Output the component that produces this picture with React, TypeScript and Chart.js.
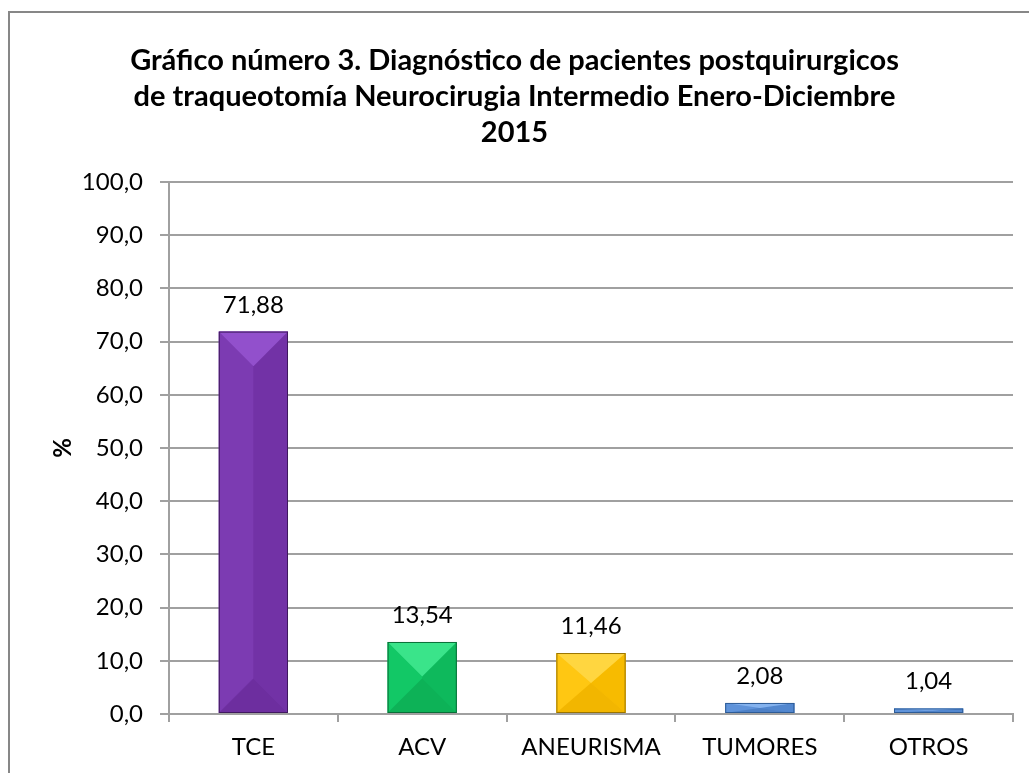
import React, { useEffect, useRef } from "react";
import { Chart, registerables } from "chart.js";

Chart.register(...registerables);

const categories = ["TCE", "ACV", "ANEURISMA", "TUMORES", "OTROS"];
const percentValues = [71.88, 13.54, 11.46, 2.08, 1.04];
const titleLines = [
  "Gráfico número 3. Diagnóstico de pacientes postquirurgicos",
  "de traqueotomía Neurocirugia Intermedio Enero-Diciembre",
  "2015",
];
const yAxisTitle = "%";
const yMin = 0;
const yMax = 100;
const yStep = 10;

// styles: [base, left face, right face, top, bottom, outline]
const barStyles = [
  ["#7a3ab0", "#7c3bb2", "#7232a6", "#9250cc", "#6d2e9f", "#40195f"],
  ["#10c062", "#12c866", "#0eb95c", "#3ae48a", "#0db257", "#0a6e38"],
  ["#ffc20a", "#ffc712", "#f7bb00", "#ffd640", "#f2b600", "#9a7400"],
  ["#5b8fd6", "#5f93da", "#5287cf", "#84b2ee", "#4d80c6", "#2d5b96"],
  ["#5b8fd6", "#5f93da", "#5287cf", "#84b2ee", "#4d80c6", "#2d5b96"],
];

const FONT = "Lato, 'Open Sans', sans-serif";
const GRID = "#a0a0a0";

const fmt = (v: number, d: number) => v.toFixed(d).replace(".", ",");

const framePlugin = {
  id: "frame",
  beforeDraw(chart: any) {
    const ctx = chart.ctx;
    ctx.save();
    ctx.fillStyle = "#ffffff";
    ctx.fillRect(0, 0, chart.width, chart.height);
    ctx.strokeStyle = "#878787";
    ctx.lineWidth = 2;
    ctx.strokeRect(9, 12, 1040, 820);
    ctx.restore();
  },
};

const bevelPlugin = {
  id: "bevel",
  afterDatasetsDraw(chart: any) {
    const ctx = chart.ctx;
    const meta = chart.getDatasetMeta(0);
    meta.data.forEach((bar: any, i: number) => {
      const st = barStyles[i];
      const w = bar.width;
      const left = bar.x - w / 2;
      const right = bar.x + w / 2;
      const top = Math.min(bar.y, bar.base);
      const bottom = Math.max(bar.y, bar.base);
      const h = bottom - top;
      const d = Math.min(w / 2, h / 2);
      const cx = bar.x;
      const poly = (pts: number[][], color: string) => {
        ctx.beginPath();
        ctx.moveTo(pts[0][0], pts[0][1]);
        for (let k = 1; k < pts.length; k++) ctx.lineTo(pts[k][0], pts[k][1]);
        ctx.closePath();
        ctx.fillStyle = color;
        ctx.fill();
      };
      ctx.save();
      poly([[left, top], [cx, top + d], [cx, bottom - d], [left, bottom]], st[1]);
      poly([[right, top], [cx, top + d], [cx, bottom - d], [right, bottom]], st[2]);
      poly([[left, top], [right, top], [cx, top + d]], st[3]);
      poly([[left, bottom], [right, bottom], [cx, bottom - d]], st[4]);
      ctx.strokeStyle = st[5];
      ctx.lineWidth = 1;
      ctx.strokeRect(left + 0.5, top + 0.5, w - 1, h - 1);
      ctx.restore();

      ctx.save();
      ctx.fillStyle = "#000000";
      ctx.font = `24px ${FONT}`;
      ctx.textAlign = "center";
      ctx.textBaseline = "alphabetic";
      ctx.fillText(fmt(percentValues[i], 2), cx, top - 19);
      ctx.restore();
    });
  },
};

export default function App() {
  const ref = useRef<HTMLCanvasElement | null>(null);

  useEffect(() => {
    if (!ref.current) return;
    const chart = new Chart(ref.current, {
      type: "bar",
      data: {
        labels: categories,
        datasets: [
          {
            data: percentValues,
            backgroundColor: barStyles.map((s) => s[0]),
            borderWidth: 0,
            barPercentage: 0.41,
            categoryPercentage: 1,
          },
        ],
      },
      options: {
        responsive: false,
        animation: false,
        layout: { padding: { left: 0, right: 0, top: 0, bottom: 0 } },
        plugins: {
          legend: { display: false },
          tooltip: { enabled: false },
          title: {
            display: true,
            text: titleLines,
            color: "#000000",
            font: { family: FONT, size: 29, weight: "bold", lineHeight: 36 / 29 },
            padding: { top: 43, bottom: 31 },
          },
        },
        scales: {
          x: {
            offset: true,
            grid: {
              display: true,
              offset: true,
              drawOnChartArea: false,
              drawTicks: true,
              tickLength: 8,
              color: GRID,
              lineWidth: 2,
            },
            border: { display: true, color: GRID, width: 2 },
            ticks: {
              color: "#000000",
              font: { family: FONT, size: 24 },
              padding: 11,
              maxRotation: 0,
              autoSkip: false,
            },
            afterFit: (s: any) => {
              s.height = 59;
              s.paddingRight = 16;
            },
          },
          y: {
            min: yMin,
            max: yMax,
            grid: { color: GRID, lineWidth: 2, tickLength: 9, drawTicks: true },
            border: { display: true, color: GRID, width: 2 },
            ticks: {
              stepSize: yStep,
              color: "#000000",
              font: { family: FONT, size: 24 },
              padding: 17,
              callback: (v: any) => fmt(Number(v), 1),
            },
            title: {
              display: true,
              text: yAxisTitle,
              color: "#000000",
              font: { family: FONT, size: 24, weight: "bold", lineHeight: 1.2 },
              padding: { top: 48.6, bottom: 0 },
            },
            afterFit: (s: any) => {
              s.width = 169;
            },
          },
        },
      },
      plugins: [framePlugin, bevelPlugin],
    });
    return () => chart.destroy();
  }, []);

  return (
    <div style={{ position: "absolute", left: 0, top: 0, width: 1029, height: 773 }}>
      <canvas ref={ref} width={1029} height={773} style={{ display: "block" }} />
    </div>
  );
}
